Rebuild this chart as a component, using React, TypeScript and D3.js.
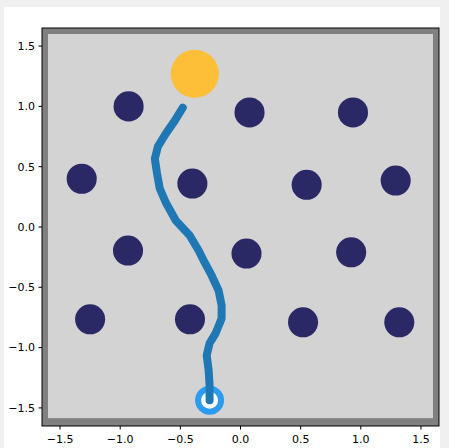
import * as d3 from 'd3'

const TICKS = [-1.5, -1.0, -0.5, 0.0, 0.5, 1.0, 1.5]

const OBSTACLE_X = [-0.93, 0.075, 0.935, -1.32, -0.40, 0.55, 1.29, -0.935, 0.05, 0.92, -1.25, -0.42, 0.52, 1.32]
const OBSTACLE_Y = [1.0, 0.95, 0.95, 0.40, 0.36, 0.35, 0.385, -0.195, -0.22, -0.21, -0.765, -0.765, -0.79, -0.79]
const OBSTACLE_R = 0.125

const GOAL = [-0.38, 1.27]
const GOAL_R = 0.2
const START = [-0.257, -1.436]

const PATH_X = [-0.257, -0.257, -0.265, -0.281, -0.257, -0.207, -0.157, -0.157, -0.182, -0.24, -0.298, -0.348, -0.422, -0.538, -0.621, -0.671, -0.695, -0.712, -0.687, -0.621, -0.546, -0.48]
const PATH_Y = [-1.436, -1.312, -1.188, -1.064, -0.964, -0.882, -0.758, -0.65, -0.526, -0.402, -0.294, -0.195, -0.07, 0.054, 0.203, 0.319, 0.451, 0.567, 0.666, 0.774, 0.882, 0.989]

const fmt = (v: number) => v.toFixed(1).replace('-', '\u2212')

export default function App() {
  const W = 449, H = 448
  const x = d3.scaleLinear().domain([-1.65, 1.65]).range([42, 439])
  const y = d3.scaleLinear().domain([-1.65, 1.65]).range([426, 28])
  const k = x(1) - x(0)

  const pts = PATH_X.map((v, i) => [v, PATH_Y[i]] as [number, number])
  const line = d3.line<[number, number]>().x(d => x(d[0])).y(d => y(d[1]))

  return (
    <svg width={W} height={H} style={{ position: 'absolute', left: 0, top: 0, display: 'block' }}
      fontFamily="DejaVu Sans" fontSize={11}>
      <rect x={0} y={0} width={W} height={H} fill="#f0f0f0" />
      <rect x={4} y={7} width={436} height={H - 7} fill="#ffffff" />

      {/* arena walls */}
      <rect x={x(-1.65)} y={y(1.65)} width={x(1.65) - x(-1.65)} height={y(-1.65) - y(1.65)} fill="#808080" />
      <rect x={x(-1.6)} y={y(1.6)} width={x(1.6) - x(-1.6)} height={y(-1.585) - y(1.6)} fill="#d3d3d3" />

      {OBSTACLE_X.map((ox, i) => (
        <circle key={i} cx={x(ox)} cy={y(OBSTACLE_Y[i])} r={OBSTACLE_R * k} fill="#2b2866" />
      ))}

      <circle cx={x(GOAL[0])} cy={y(GOAL[1])} r={GOAL_R * k} fill="#fdbf38" />

      <circle cx={x(START[0])} cy={y(START[1])} r={11.5} fill="#ffffff" stroke="#2d9cf0" strokeWidth={6} />

      <path d={line(pts) || ''} fill="none" stroke="#1f77b4" strokeWidth={8}
        strokeLinecap="round" strokeLinejoin="round" />

      {/* spines */}
      <rect x={x(-1.65)} y={y(1.65)} width={x(1.65) - x(-1.65)} height={y(-1.65) - y(1.65)}
        fill="none" stroke="#000" strokeWidth={1} />

      {TICKS.map(t => (
        <g key={'x' + t}>
          <line x1={x(t)} x2={x(t)} y1={426} y2={429.5} stroke="#000" />
          <text x={x(t)} y={443} textAnchor="middle" fill="#000">{fmt(t)}</text>
        </g>
      ))}
      {TICKS.map(t => (
        <g key={'y' + t}>
          <line x1={42} x2={38.5} y1={y(t)} y2={y(t)} stroke="#000" />
          <text x={35} y={y(t)} dy="0.35em" textAnchor="end" fill="#000">{fmt(t)}</text>
        </g>
      ))}
    </svg>
  )
}
